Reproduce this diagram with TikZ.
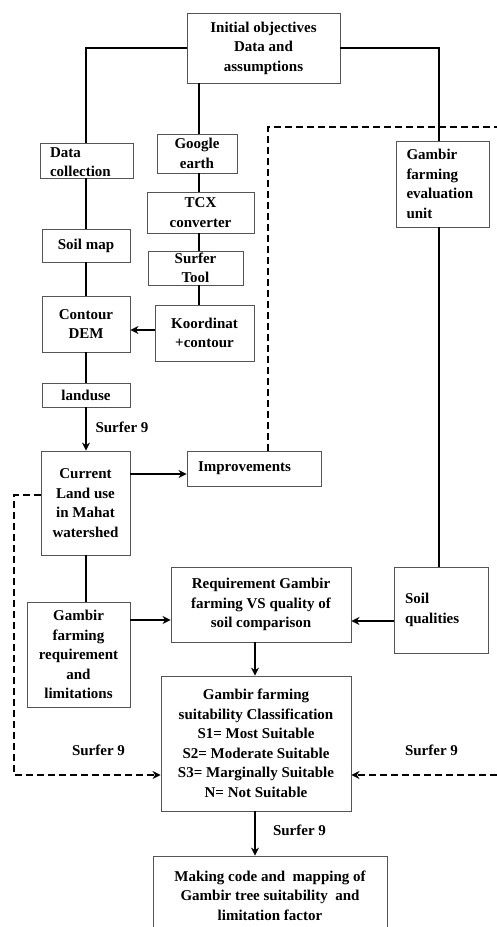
\documentclass[tikz,border=0pt]{standalone}
\usepackage{fontspec}
\setmainfont{Liberation Serif}
\usetikzlibrary{arrows.meta}
\definecolor{boxgray}{HTML}{555555}
\begin{document}
\begin{tikzpicture}[x=1pt,y=-1pt,
  box/.style={draw=boxgray, line width=0.9pt, inner sep=0pt, font=\bfseries\fontsize{15}{19.5}\selectfont, align=center},
  lbox/.style={box, align=left},
  lbl/.style={font=\bfseries\fontsize{15}{19.5}\selectfont, inner sep=0pt},
  conn/.style={line width=2.5pt},
  arr/.style={conn, -{Stealth[length=8pt,width=8pt]}},
  dsh/.style={line width=2.8pt, dash pattern=on 7pt off 4pt},
  darr/.style={dsh, -{Stealth[length=8pt,width=8pt]}},
]
\useasboundingbox (0,0) rectangle (497,927);
\fill[white] (0,0) rectangle (497,927);

% helper coordinates
\coordinate (ll) at (86,0);
\coordinate (ml) at (199,0);
\coordinate (rl) at (439,0);
\coordinate (dx) at (268,0);
\coordinate (cx) at (255,0);
\coordinate (y330) at (0,330);
\coordinate (y474) at (0,474);
\coordinate (y495) at (0,495);
\coordinate (y620) at (0,620);
\coordinate (y621) at (0,621);
\coordinate (y775) at (0,775);
\coordinate (dtop) at (268,127);
\coordinate (dtopR) at (497,127);
\coordinate (dl1) at (14,495);
\coordinate (dl2) at (14,775);
\coordinate (dbotR) at (497,775);

% nodes
\node[box, minimum width=153, minimum height=70] (init) at (263.5,48) {Initial objectives\\Data and\\assumptions};
\node[lbox, text width=73, minimum width=93, minimum height=35] (datacol) at (86.5,160.5) {\rule{0pt}{13pt}Data\\collection};
\node[box, minimum width=80, minimum height=39] (google) at (197,153.5) {Google\\earth};
\node[lbox, text width=72, minimum width=93, minimum height=86] (gunit) at (442.5,184) {Gambir\\farming\\evaluation\\unit};
\node[box, minimum width=107, minimum height=41] (tcx) at (200.5,212.5) {TCX\\converter};
\node[box, minimum width=95, minimum height=34] (stool) at (195.5,268) {Surfer\\Tool};
\node[box, minimum width=99, minimum height=56] (koord) at (204.5,333) {Koordinat\\+contour};
\node[box, minimum width=88, minimum height=33] (soil) at (86,245.5) {Soil map};
\node[box, minimum width=88, minimum height=56] (contour) at (86,324) {Contour\\DEM};
\node[box, minimum width=88, minimum height=24] (landuse) at (86,395) {landuse};
\node[box, minimum width=89, minimum height=104] (cur) at (85.5,503) {Current\\Land use\\in Mahat\\watershed};
\node[lbox, text width=112, minimum width=134, minimum height=35] (impr) at (254,468.5) {Improvements};
\node[box, minimum width=180, minimum height=75] (req) at (261,604.5) {Requirement Gambir\\farming VS quality of\\soil comparison};
\node[lbox, text width=72, minimum width=94, minimum height=86] (sq) at (441,610) {Soil\\qualities};
\node[box, minimum width=103, minimum height=105] (greq) at (78.5,654.5) {Gambir\\farming\\requirement\\and\\limitations};
\node[box, minimum width=190, minimum height=135] (cls) at (256,743.5) {Gambir farming\\suitability Classification\\S1= Most Suitable\\S2= Moderate Suitable\\S3= Marginally Suitable\\N= Not Suitable};
\begin{scope}
\clip (0,0) rectangle (497,927);
\node[box, minimum width=234, minimum height=79] (final) at (270,895.5) {Making code and\ \ mapping of\\Gambir tree suitability\ \ and\\limitation factor};
\end{scope}

\node[lbl] (s9a) at (122,427) {Surfer 9};
\node[lbl] (s9b) at (98.5,750) {Surfer 9};
\node[lbl] (s9c) at (431.5,750) {Surfer 9};
\node[lbl] (s9d) at (299.5,830) {Surfer 9};

% solid connectors
\draw[conn] (init.west) -| (ll |- datacol.north);
\draw[conn] (init.east) -| (rl |- gunit.north);
\draw[conn] (ml |- init.south) -- (ml |- google.north);
\draw[conn] (ml |- google.south) -- (ml |- tcx.north);
\draw[conn] (ml |- tcx.south) -- (ml |- stool.north);
\draw[conn] (ml |- stool.south) -- (ml |- koord.north);
\draw[arr] (koord.west |- y330) -- (contour.east |- y330);
\draw[conn] (ll |- datacol.south) -- (ll |- soil.north);
\draw[conn] (ll |- soil.south) -- (ll |- contour.north);
\draw[conn] (ll |- contour.south) -- (ll |- landuse.north);
\draw[arr] (ll |- landuse.south) -- (ll |- cur.north);
\draw[arr] (cur.east |- y474) -- (impr.west |- y474);
\draw[conn] (ll |- cur.south) -- (ll |- greq.north);
\draw[arr] (greq.east |- y620) -- (req.west |- y620);
\draw[conn] (rl |- gunit.south) -- (rl |- sq.north);
\draw[arr] (sq.west |- y621) -- (req.east |- y621);
\draw[arr] (cx |- req.south) -- (cx |- cls.north);
\draw[arr] (cx |- cls.south) -- (cx |- final.north);

% dashed connectors
\draw[dsh] (dx |- impr.north) -- (dtop) -- (dtopR);
\draw[darr] (cur.west |- y495) -- (dl1) -- (dl2) -- (cls.west |- y775);
\draw[darr] (dbotR) -- (cls.east |- y775);
\end{tikzpicture}
\end{document}
